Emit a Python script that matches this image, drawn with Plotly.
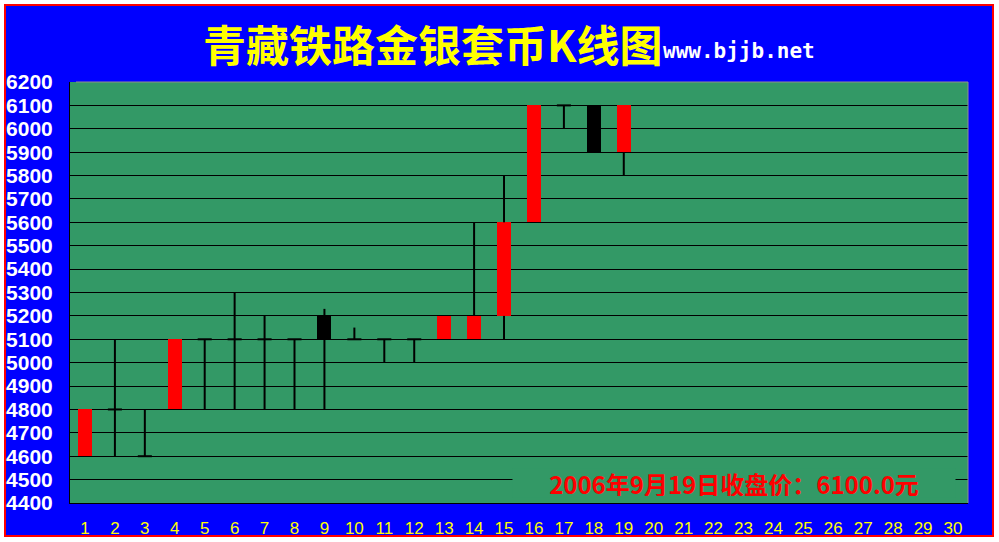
import plotly.graph_objects as go

# ---- data ----
days = list(range(1, 20))
open_ = [4600, 4800, 4600, 4800, 5100, 5100, 5100, 5100, 5200, 5100,
         5100, 5100, 5100, 5100, 5200, 5600, 6100, 6100, 5900]
high = [4800, 5100, 4800, 5100, 5100, 5300, 5200, 5100, 5230, 5150,
        5100, 5100, 5200, 5600, 5800, 6100, 6100, 6100, 6100]
low = [4600, 4600, 4600, 4800, 4800, 4800, 4800, 4800, 4800, 5100,
       5000, 5000, 5100, 5100, 5100, 5600, 6000, 5900, 5800]
close = [4800, 4800, 4600, 5100, 5100, 5100, 5100, 5100, 5100, 5100,
         5100, 5100, 5200, 5200, 5600, 6100, 6100, 5900, 6100]
x_labels = [str(i) for i in range(1, 31)]
y_ticks = list(range(4400, 6201, 100))
title_text = "青藏铁路金银套币K线图"
site_text = "www.bjjb.net"
note_text = "2006年9月19日收盘价：6100.0元"

# ---- style ----
GREEN = "#339966"
BLUE = "#0000FF"
RED = "#FF0000"
BODY_W = 0.47
HALF = BODY_W / 2

# wick segments (outside the body)
wx, wy = [], []
for d, o, h, l, c in zip(days, open_, high, low, close):
    lo_b, hi_b = min(o, c), max(o, c)
    if l < lo_b:
        wx += [d, d, None]; wy += [l, lo_b, None]
    if h > hi_b:
        wx += [d, d, None]; wy += [hi_b, h, None]

# doji ticks (open == close)
tx, ty = [], []
for d, o, c in zip(days, open_, close):
    if o == c:
        tx += [d - HALF, d + HALF, None]; ty += [o, o, None]

up = [(d, o, c) for d, o, c in zip(days, open_, close) if c > o]
dn = [(d, o, c) for d, o, c in zip(days, open_, close) if c < o]

fig = go.Figure()
fig.add_trace(go.Scatter(x=wx, y=wy, mode="lines",
                         line=dict(color="black", width=2), hoverinfo="skip"))
fig.add_trace(go.Scatter(x=tx, y=ty, mode="lines",
                         line=dict(color="black", width=2), hoverinfo="skip"))
fig.add_trace(go.Bar(x=[u[0] for u in up], base=[u[1] for u in up],
                     y=[u[2] - u[1] for u in up], width=BODY_W,
                     marker=dict(color=RED, line=dict(width=0))))
fig.add_trace(go.Bar(x=[u[0] for u in dn], base=[u[2] for u in dn],
                     y=[u[1] - u[2] for u in dn], width=BODY_W,
                     marker=dict(color="black", line=dict(width=0))))

L, R, T, B = 70, 31, 82, 39
PW, PH = 999 - L - R, 542 - T - B


def px(xp):
    return (xp - L) / PW


def py(yp):
    return (542 - B - yp) / PH


shapes = [
    dict(type="rect", xref="paper", yref="paper", layer="below",
         x0=px(5), x1=px(993), y0=py(536), y1=py(5),
         fillcolor=BLUE, line=dict(color=RED, width=2)),
    dict(type="rect", xref="paper", yref="paper", layer="below",
         x0=0, x1=1, y0=0, y1=1, fillcolor=GREEN, line=dict(width=0)),
    dict(type="line", xref="paper", yref="paper", layer="above",
         x0=px(76), x1=1, y0=1, y1=1, line=dict(color="#909090", width=1)),
    dict(type="line", xref="paper", yref="paper", layer="above",
         x0=1, x1=1, y0=0, y1=1, line=dict(color="#909090", width=1)),
]

annotations = [
    dict(xref="paper", yref="paper", x=px(201), y=py(43), xanchor="left",
         yanchor="middle", showarrow=False,
         text=f"<b>{title_text}</b>",
         font=dict(family="Noto Sans CJK SC", size=43, color="#FFFF00")),
    dict(xref="paper", yref="paper", x=px(661), y=py(51), xanchor="left",
         yanchor="middle", showarrow=False,
         text=f"<b>{site_text}</b>",
         font=dict(family="DejaVu Sans Mono", size=21, color="white")),
    dict(xref="paper", yref="paper", x=px(734), y=py(483), xanchor="center",
         yanchor="middle", showarrow=False, width=440, height=26,
         bgcolor=GREEN, text=f"<b>{note_text}</b>",
         font=dict(family="Noto Sans CJK SC", size=24, color=RED)),
]

fig.update_layout(
    width=999, height=542,
    margin=dict(l=L, r=R, t=T, b=B, autoexpand=False),
    paper_bgcolor="white", plot_bgcolor="rgba(0,0,0,0)",
    showlegend=False, barmode="overlay", bargap=0,
    shapes=shapes, annotations=annotations,
    xaxis=dict(range=[0.5, 30.5], tickmode="array",
               tickvals=list(range(1, 31)), ticktext=x_labels,
               showgrid=False, zeroline=False, showline=True,
               linecolor="black", linewidth=1, ticks="",
               ticklabelstandoff=10, automargin=False,
               tickfont=dict(family="Liberation Sans", size=17, color="#FFFF00")),
    yaxis=dict(range=[4400, 6200], tickmode="array", tickvals=y_ticks,
               ticktext=[str(v) for v in y_ticks],
               showgrid=True, gridcolor="black", gridwidth=1,
               zeroline=False, showline=True, linecolor="black", linewidth=1,
               ticks="inside", ticklen=6, tickcolor="black",
               ticklabelstandoff=12, automargin=False,
               tickfont=dict(family="Liberation Sans", size=21, color="white",
                             weight="bold")),
)

fig.write_html("out.html",
               config={"displayModeBar": False},
               post_script="document.body.style.margin='0';"
                           "document.body.style.overflow='hidden';")
